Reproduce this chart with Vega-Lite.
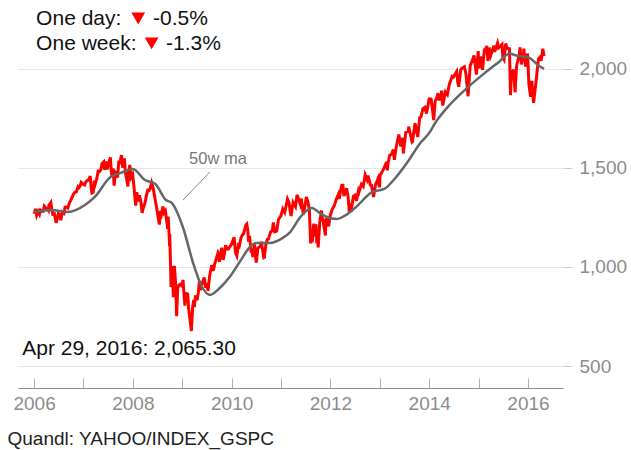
{
  "$schema": "https://vega.github.io/schema/vega-lite/v6.json",
  "width": 545,
  "height": 388,
  "autosize": {"type": "none"},
  "padding": {"left": 18, "top": 0, "right": 68, "bottom": 62},
  "background": "white",
  "config": {"view": {"stroke": null}, "font": "Liberation Sans"},
  "datasets": {
    "spx": [
      {"d":"2006-01-03","c":1268},{"d":"2006-01-11","c":1294},{"d":"2006-01-20","c":1261},{"d":"2006-01-31","c":1280},
      {"d":"2006-02-10","c":1266},{"d":"2006-02-17","c":1287},{"d":"2006-02-28","c":1281},
      {"d":"2006-03-10","c":1281},{"d":"2006-03-17","c":1307},{"d":"2006-03-31","c":1295},
      {"d":"2006-04-07","c":1295},{"d":"2006-04-17","c":1285},{"d":"2006-04-21","c":1311},{"d":"2006-05-05","c":1325},
      {"d":"2006-05-12","c":1291},{"d":"2006-05-19","c":1267},{"d":"2006-05-31","c":1270},
      {"d":"2006-06-13","c":1223},{"d":"2006-06-22","c":1245},{"d":"2006-06-30","c":1270},
      {"d":"2006-07-07","c":1265},{"d":"2006-07-18","c":1236},{"d":"2006-07-28","c":1278},
      {"d":"2006-08-10","c":1271},{"d":"2006-08-18","c":1302},{"d":"2006-08-31","c":1304},
      {"d":"2006-09-08","c":1299},{"d":"2006-09-20","c":1325},{"d":"2006-09-29","c":1336},
      {"d":"2006-10-10","c":1354},{"d":"2006-10-20","c":1368},{"d":"2006-10-31","c":1378},
      {"d":"2006-11-10","c":1380},{"d":"2006-11-22","c":1406},{"d":"2006-11-30","c":1401},
      {"d":"2006-12-08","c":1409},{"d":"2006-12-15","c":1427},{"d":"2006-12-29","c":1418},
      {"d":"2007-01-10","c":1414},{"d":"2007-01-19","c":1430},{"d":"2007-01-31","c":1438},
      {"d":"2007-02-09","c":1438},{"d":"2007-02-20","c":1459},{"d":"2007-02-27","c":1399},{"d":"2007-03-05","c":1374},
      {"d":"2007-03-14","c":1377},{"d":"2007-03-23","c":1436},{"d":"2007-03-30","c":1421},
      {"d":"2007-04-10","c":1448},{"d":"2007-04-20","c":1484},{"d":"2007-04-30","c":1482},
      {"d":"2007-05-10","c":1491},{"d":"2007-05-18","c":1522},{"d":"2007-05-31","c":1531},
      {"d":"2007-06-07","c":1491},{"d":"2007-06-15","c":1533},{"d":"2007-06-26","c":1492},{"d":"2007-06-29","c":1503},
      {"d":"2007-07-09","c":1531},{"d":"2007-07-19","c":1553},{"d":"2007-07-26","c":1482},{"d":"2007-07-31","c":1455},
      {"d":"2007-08-08","c":1498},{"d":"2007-08-16","c":1411},{"d":"2007-08-24","c":1479},{"d":"2007-08-31","c":1474},
      {"d":"2007-09-10","c":1451},{"d":"2007-09-19","c":1529},{"d":"2007-09-28","c":1527},
      {"d":"2007-10-09","c":1565},{"d":"2007-10-19","c":1501},{"d":"2007-10-31","c":1549},
      {"d":"2007-11-07","c":1475},{"d":"2007-11-15","c":1451},{"d":"2007-11-26","c":1407},{"d":"2007-11-30","c":1481},
      {"d":"2007-12-10","c":1515},{"d":"2007-12-19","c":1453},{"d":"2007-12-31","c":1468},
      {"d":"2008-01-09","c":1409},{"d":"2008-01-22","c":1310},{"d":"2008-01-31","c":1378},
      {"d":"2008-02-08","c":1331},{"d":"2008-02-19","c":1362},{"d":"2008-02-29","c":1331},
      {"d":"2008-03-10","c":1273},{"d":"2008-03-19","c":1299},{"d":"2008-03-31","c":1323},
      {"d":"2008-04-10","c":1360},{"d":"2008-04-21","c":1388},{"d":"2008-04-30","c":1386},
      {"d":"2008-05-06","c":1392},{"d":"2008-05-19","c":1426},{"d":"2008-05-30","c":1400},
      {"d":"2008-06-09","c":1361},{"d":"2008-06-20","c":1318},{"d":"2008-06-30","c":1280},
      {"d":"2008-07-15","c":1214},{"d":"2008-07-23","c":1283},{"d":"2008-07-31","c":1267},
      {"d":"2008-08-11","c":1305},{"d":"2008-08-20","c":1274},{"d":"2008-08-29","c":1283},
      {"d":"2008-09-15","c":1193},{"d":"2008-09-19","c":1255},{"d":"2008-09-29","c":1106},{"d":"2008-09-30","c":1166},
      {"d":"2008-10-10","c":899},{"d":"2008-10-13","c":1003},{"d":"2008-10-20","c":985},{"d":"2008-10-27","c":848},{"d":"2008-10-31","c":969},
      {"d":"2008-11-04","c":1006},{"d":"2008-11-13","c":912},{"d":"2008-11-20","c":752},{"d":"2008-11-28","c":896},
      {"d":"2008-12-08","c":909},{"d":"2008-12-16","c":913},{"d":"2008-12-31","c":903},
      {"d":"2009-01-06","c":935},{"d":"2009-01-20","c":805},{"d":"2009-01-28","c":874},{"d":"2009-01-30","c":826},
      {"d":"2009-02-09","c":870},{"d":"2009-02-17","c":789},{"d":"2009-02-27","c":735},
      {"d":"2009-03-09","c":677},{"d":"2009-03-18","c":795},{"d":"2009-03-26","c":833},{"d":"2009-03-31","c":798},
      {"d":"2009-04-09","c":856},{"d":"2009-04-20","c":832},{"d":"2009-04-30","c":873},
      {"d":"2009-05-08","c":930},{"d":"2009-05-15","c":883},{"d":"2009-05-29","c":919},
      {"d":"2009-06-12","c":947},{"d":"2009-06-23","c":895},{"d":"2009-06-30","c":919},
      {"d":"2009-07-10","c":880},{"d":"2009-07-22","c":954},{"d":"2009-07-31","c":987},
      {"d":"2009-08-07","c":1010},{"d":"2009-08-17","c":980},{"d":"2009-08-31","c":1021},
      {"d":"2009-09-10","c":1044},{"d":"2009-09-22","c":1071},{"d":"2009-09-30","c":1057},
      {"d":"2009-10-02","c":1025},{"d":"2009-10-19","c":1097},{"d":"2009-10-30","c":1036},
      {"d":"2009-11-09","c":1069},{"d":"2009-11-17","c":1110},{"d":"2009-11-27","c":1091},
      {"d":"2009-12-08","c":1091},{"d":"2009-12-18","c":1102},{"d":"2009-12-31","c":1115},
      {"d":"2010-01-19","c":1150},{"d":"2010-01-29","c":1074},
      {"d":"2010-02-08","c":1057},{"d":"2010-02-19","c":1109},{"d":"2010-02-26","c":1104},
      {"d":"2010-03-12","c":1150},{"d":"2010-03-25","c":1165},{"d":"2010-03-31","c":1169},
      {"d":"2010-04-15","c":1211},{"d":"2010-04-23","c":1217},{"d":"2010-04-30","c":1187},
      {"d":"2010-05-06","c":1128},{"d":"2010-05-13","c":1157},{"d":"2010-05-25","c":1074},{"d":"2010-05-28","c":1089},
      {"d":"2010-06-07","c":1050},{"d":"2010-06-18","c":1117},{"d":"2010-06-30","c":1031},
      {"d":"2010-07-02","c":1022},{"d":"2010-07-14","c":1096},{"d":"2010-07-30","c":1102},
      {"d":"2010-08-09","c":1127},{"d":"2010-08-26","c":1047},{"d":"2010-08-31","c":1049},
      {"d":"2010-09-10","c":1110},{"d":"2010-09-21","c":1139},{"d":"2010-09-30","c":1141},
      {"d":"2010-10-15","c":1176},{"d":"2010-10-29","c":1183},
      {"d":"2010-11-05","c":1225},{"d":"2010-11-16","c":1178},{"d":"2010-11-30","c":1181},
      {"d":"2010-12-13","c":1240},{"d":"2010-12-31","c":1258},
      {"d":"2011-01-14","c":1293},{"d":"2011-01-28","c":1276},
      {"d":"2011-02-18","c":1343},{"d":"2011-02-28","c":1327},
      {"d":"2011-03-16","c":1257},{"d":"2011-03-31","c":1326},
      {"d":"2011-04-18","c":1305},{"d":"2011-04-29","c":1364},
      {"d":"2011-05-13","c":1338},{"d":"2011-05-23","c":1317},{"d":"2011-05-31","c":1345},
      {"d":"2011-06-15","c":1265},{"d":"2011-06-30","c":1321},
      {"d":"2011-07-07","c":1353},{"d":"2011-07-19","c":1327},{"d":"2011-07-29","c":1292},
      {"d":"2011-08-08","c":1119},{"d":"2011-08-12","c":1179},{"d":"2011-08-19","c":1124},{"d":"2011-08-31","c":1219},
      {"d":"2011-09-09","c":1154},{"d":"2011-09-16","c":1216},{"d":"2011-09-22","c":1129},{"d":"2011-09-30","c":1131},
      {"d":"2011-10-03","c":1099},{"d":"2011-10-14","c":1224},{"d":"2011-10-27","c":1285},{"d":"2011-10-31","c":1253},
      {"d":"2011-11-09","c":1229},{"d":"2011-11-25","c":1159},{"d":"2011-11-30","c":1247},
      {"d":"2011-12-08","c":1234},{"d":"2011-12-19","c":1205},{"d":"2011-12-30","c":1258},
      {"d":"2012-01-13","c":1289},{"d":"2012-01-31","c":1312},
      {"d":"2012-02-15","c":1344},{"d":"2012-02-29","c":1366},
      {"d":"2012-03-06","c":1343},{"d":"2012-03-26","c":1417},{"d":"2012-03-30","c":1408},
      {"d":"2012-04-02","c":1419},{"d":"2012-04-10","c":1358},{"d":"2012-04-30","c":1398},
      {"d":"2012-05-11","c":1353},{"d":"2012-05-18","c":1295},{"d":"2012-05-31","c":1310},
      {"d":"2012-06-01","c":1278},{"d":"2012-06-19","c":1357},{"d":"2012-06-29","c":1362},
      {"d":"2012-07-12","c":1334},{"d":"2012-07-27","c":1386},{"d":"2012-07-31","c":1379},
      {"d":"2012-08-17","c":1418},{"d":"2012-08-31","c":1407},
      {"d":"2012-09-14","c":1465},{"d":"2012-09-28","c":1441},
      {"d":"2012-10-05","c":1461},{"d":"2012-10-23","c":1413},{"d":"2012-10-31","c":1412},
      {"d":"2012-11-15","c":1353},{"d":"2012-11-30","c":1416},
      {"d":"2012-12-18","c":1446},{"d":"2012-12-28","c":1402},{"d":"2012-12-31","c":1426},
      {"d":"2013-01-02","c":1462},{"d":"2013-01-31","c":1498},
      {"d":"2013-02-19","c":1530},{"d":"2013-02-25","c":1488},{"d":"2013-02-28","c":1515},
      {"d":"2013-03-14","c":1563},{"d":"2013-03-28","c":1569},
      {"d":"2013-04-11","c":1593},{"d":"2013-04-18","c":1541},{"d":"2013-04-30","c":1598},
      {"d":"2013-05-21","c":1669},{"d":"2013-05-31","c":1631},
      {"d":"2013-06-05","c":1608},{"d":"2013-06-18","c":1652},{"d":"2013-06-24","c":1573},{"d":"2013-06-28","c":1606},
      {"d":"2013-07-12","c":1680},{"d":"2013-07-31","c":1686},
      {"d":"2013-08-02","c":1709},{"d":"2013-08-27","c":1631},{"d":"2013-08-30","c":1633},
      {"d":"2013-09-18","c":1726},{"d":"2013-09-30","c":1682},
      {"d":"2013-10-08","c":1656},{"d":"2013-10-22","c":1754},{"d":"2013-10-31","c":1757},
      {"d":"2013-11-15","c":1798},{"d":"2013-11-29","c":1806},
      {"d":"2013-12-12","c":1775},{"d":"2013-12-31","c":1848},
      {"d":"2014-01-15","c":1848},{"d":"2014-02-03","c":1742},
      {"d":"2014-02-14","c":1838},{"d":"2014-02-28","c":1859},
      {"d":"2014-03-07","c":1878},{"d":"2014-03-14","c":1841},{"d":"2014-03-31","c":1872},
      {"d":"2014-04-02","c":1891},{"d":"2014-04-11","c":1815},{"d":"2014-04-30","c":1884},
      {"d":"2014-05-15","c":1870},{"d":"2014-05-30","c":1924},
      {"d":"2014-06-20","c":1963},{"d":"2014-06-30","c":1960},
      {"d":"2014-07-23","c":1987},{"d":"2014-07-31","c":1931},
      {"d":"2014-08-07","c":1910},{"d":"2014-08-21","c":1993},{"d":"2014-08-29","c":2003},
      {"d":"2014-09-18","c":2011},{"d":"2014-09-30","c":1972},
      {"d":"2014-10-15","c":1862},{"d":"2014-10-31","c":2018},
      {"d":"2014-11-14","c":2039},{"d":"2014-11-28","c":2068},
      {"d":"2014-12-16","c":1972},{"d":"2014-12-29","c":2090},{"d":"2014-12-31","c":2059},
      {"d":"2015-01-06","c":2003},{"d":"2015-01-22","c":2063},{"d":"2015-01-30","c":1995},
      {"d":"2015-02-13","c":2097},{"d":"2015-02-27","c":2105},
      {"d":"2015-03-02","c":2117},{"d":"2015-03-11","c":2040},{"d":"2015-03-20","c":2108},{"d":"2015-03-31","c":2068},
      {"d":"2015-04-24","c":2117},{"d":"2015-04-30","c":2086},
      {"d":"2015-05-21","c":2131},{"d":"2015-05-29","c":2107},
      {"d":"2015-06-23","c":2124},{"d":"2015-06-29","c":2058},
      {"d":"2015-07-08","c":2047},{"d":"2015-07-20","c":2128},{"d":"2015-07-31","c":2104},
      {"d":"2015-08-17","c":2102},{"d":"2015-08-25","c":1868},{"d":"2015-08-31","c":1972},
      {"d":"2015-09-16","c":1996},{"d":"2015-09-28","c":1882},{"d":"2015-09-30","c":1920},
      {"d":"2015-10-09","c":2015},{"d":"2015-10-30","c":2079},
      {"d":"2015-11-03","c":2109},{"d":"2015-11-13","c":2023},{"d":"2015-11-30","c":2080},
      {"d":"2015-12-01","c":2103},{"d":"2015-12-14","c":2012},{"d":"2015-12-29","c":2078},{"d":"2015-12-31","c":2044},
      {"d":"2016-01-08","c":1922},{"d":"2016-01-20","c":1859},{"d":"2016-01-29","c":1940},
      {"d":"2016-02-11","c":1829},{"d":"2016-02-29","c":1932},
      {"d":"2016-03-18","c":2049},{"d":"2016-03-31","c":2060},
      {"d":"2016-04-07","c":2041},{"d":"2016-04-20","c":2102},{"d":"2016-04-29","c":2065}
    ],
    "ma": [
      {"d":"2006-01-03","m":1278},{"d":"2006-05-08","m":1288},{"d":"2006-09-09","m":1278},
      {"d":"2007-01-12","m":1313},{"d":"2007-03-26","m":1354},{"d":"2007-07-20","m":1454},
      {"d":"2007-10-05","m":1475},{"d":"2008-01-01","m":1495},{"d":"2008-03-30","m":1439},
      {"d":"2008-06-14","m":1420},{"d":"2008-09-02","m":1338},{"d":"2008-10-16","m":1323},
      {"d":"2009-01-05","m":1202},{"d":"2009-03-22","m":1020},{"d":"2009-05-27","m":899},
      {"d":"2009-07-24","m":859},{"d":"2009-10-05","m":894},{"d":"2009-12-17","m":949},
      {"d":"2010-03-01","m":1025},{"d":"2010-05-16","m":1101},{"d":"2010-07-02","m":1121},
      {"d":"2010-10-09","m":1121},{"d":"2011-01-12","m":1146},{"d":"2011-03-04","m":1172},
      {"d":"2011-05-25","m":1253},{"d":"2011-08-15","m":1298},{"d":"2011-11-03","m":1263},
      {"d":"2012-02-14","m":1242},{"d":"2012-04-27","m":1263},{"d":"2012-07-09","m":1303},
      {"d":"2012-11-06","m":1379},{"d":"2013-02-03","m":1394},{"d":"2013-05-01","m":1454},
      {"d":"2013-08-04","m":1540},{"d":"2013-10-20","m":1620},{"d":"2014-01-01","m":1677},
      {"d":"2014-02-14","m":1727},{"d":"2014-06-14","m":1828},{"d":"2014-10-16","m":1909},
      {"d":"2015-02-17","m":1980},{"d":"2015-05-22","m":2030},{"d":"2015-08-18","m":2076},
      {"d":"2015-10-16","m":2066},{"d":"2016-01-12","m":2056},{"d":"2016-03-14","m":2020},
      {"d":"2016-04-29","m":2000}
    ]
  },
  "layer": [
    {
      "data": {"name": "spx"},
      "mark": {"type": "line", "color": "#ff0000", "strokeWidth": 3},
      "encoding": {
        "x": {
          "field": "d", "type": "temporal",
          "scale": {"domain": [{"year": 2005, "month": 9, "date": 4}, {"year": 2016, "month": 9, "date": 16}]},
          "axis": {
            "title": "Quandl: YAHOO/INDEX_GSPC",
            "values": [
              {"year": 2006, "month": 1, "date": 1}, {"year": 2007, "month": 1, "date": 1},
              {"year": 2008, "month": 1, "date": 1}, {"year": 2009, "month": 1, "date": 1},
              {"year": 2010, "month": 1, "date": 1}, {"year": 2011, "month": 1, "date": 1},
              {"year": 2012, "month": 1, "date": 1}, {"year": 2013, "month": 1, "date": 1},
              {"year": 2014, "month": 1, "date": 1}, {"year": 2015, "month": 1, "date": 1},
              {"year": 2016, "month": 1, "date": 1}
            ],
            "format": "%Y",
            "labelExpr": "year(datum.value) % 2 == 0 ? datum.label : ''",
            "grid": false,
            "tickSize": -10,
            "tickColor": "#b0b0b0",
            "domainColor": "#8c8c8c",
            "labelColor": "#8c8c8c",
            "labelFontSize": 19,
            "labelPadding": 16,
            "titleFontSize": 19,
            "titleFontWeight": "normal",
            "titleColor": "#222222",
            "titleAnchor": "start",
            "titleAlign": "left",
            "titleBaseline": "middle",
            "titleX": -11,
            "titleY": 50
          }
        },
        "y": {
          "field": "c", "type": "quantitative",
          "scale": {"domain": [389, 2348], "nice": false, "zero": false},
          "axis": {
            "orient": "right",
            "values": [500, 1000, 1500, 2000],
            "format": ",.0f",
            "title": null,
            "grid": true,
            "gridColor": "#e6e6e6",
            "domain": false,
            "tickColor": "#cccccc",
            "tickSize": 9,
            "labelColor": "#8c8c8c",
            "labelFontSize": 19,
            "labelPadding": 7
          }
        }
      }
    },
    {
      "data": {"name": "ma"},
      "mark": {"type": "line", "color": "#666666", "strokeWidth": 2.5, "interpolate": "monotone"},
      "encoding": {
        "x": {"field": "d", "type": "temporal"},
        "y": {"field": "m", "type": "quantitative"}
      }
    },
    {
      "data": {"values": [{}]},
      "mark": {"type": "rule", "color": "#8c8c8c", "strokeWidth": 1},
      "encoding": {
        "x": {"datum": {"year": 2009, "month": 1, "date": 6}, "type": "temporal"},
        "y": {"datum": 1338, "type": "quantitative"},
        "x2": {"datum": {"year": 2009, "month": 7, "date": 24}},
        "y2": {"datum": 1480}
      }
    },
    {
      "data": {"values": [{}]},
      "mark": {"type": "text", "text": "50w ma", "color": "#777777", "fontSize": 16.5, "align": "center", "baseline": "middle"},
      "encoding": {
        "x": {"datum": {"year": 2009, "month": 9, "date": 22}, "type": "temporal"},
        "y": {"datum": 1545, "type": "quantitative"}
      }
    },
    {
      "data": {"values": [{}]},
      "mark": {"type": "text", "text": "Apr 29, 2016: 2,065.30", "color": "#111111", "fontSize": 21, "align": "left", "baseline": "middle"},
      "encoding": {
        "x": {"datum": {"year": 2005, "month": 10, "date": 5}, "type": "temporal"},
        "y": {"datum": 586, "type": "quantitative"}
      }
    },
    {
      "data": {"values": [{}]},
      "mark": {"type": "text", "text": "One day:", "color": "#111111", "fontSize": 21, "align": "left", "baseline": "middle"},
      "encoding": {
        "x": {"datum": {"year": 2006, "month": 1, "date": 16}, "type": "temporal"},
        "y": {"datum": 2252, "type": "quantitative"}
      }
    },
    {
      "data": {"values": [{}]},
      "mark": {"type": "text", "text": "One week:", "color": "#111111", "fontSize": 21, "align": "left", "baseline": "middle"},
      "encoding": {
        "x": {"datum": {"year": 2006, "month": 1, "date": 16}, "type": "temporal"},
        "y": {"datum": 2126, "type": "quantitative"}
      }
    },
    {
      "data": {"values": [{}]},
      "mark": {"type": "text", "text": "-0.5%", "color": "#111111", "fontSize": 21, "align": "left", "baseline": "middle"},
      "encoding": {
        "x": {"datum": {"year": 2008, "month": 5, "date": 30}, "type": "temporal"},
        "y": {"datum": 2252, "type": "quantitative"}
      }
    },
    {
      "data": {"values": [{}]},
      "mark": {"type": "text", "text": "-1.3%", "color": "#111111", "fontSize": 21, "align": "left", "baseline": "middle"},
      "encoding": {
        "x": {"datum": {"year": 2008, "month": 9, "date": 3}, "type": "temporal"},
        "y": {"datum": 2126, "type": "quantitative"}
      }
    },
    {
      "data": {"values": [{}]},
      "mark": {"type": "point", "shape": "triangle-down", "filled": true, "color": "#ff0000", "size": 190, "opacity": 1},
      "encoding": {
        "x": {"datum": {"year": 2008, "month": 2, "date": 10}, "type": "temporal"},
        "y": {"datum": 2255, "type": "quantitative"}
      }
    },
    {
      "data": {"values": [{}]},
      "mark": {"type": "point", "shape": "triangle-down", "filled": true, "color": "#ff0000", "size": 190, "opacity": 1},
      "encoding": {
        "x": {"datum": {"year": 2008, "month": 5, "date": 19}, "type": "temporal"},
        "y": {"datum": 2129, "type": "quantitative"}
      }
    }
  ]
}
